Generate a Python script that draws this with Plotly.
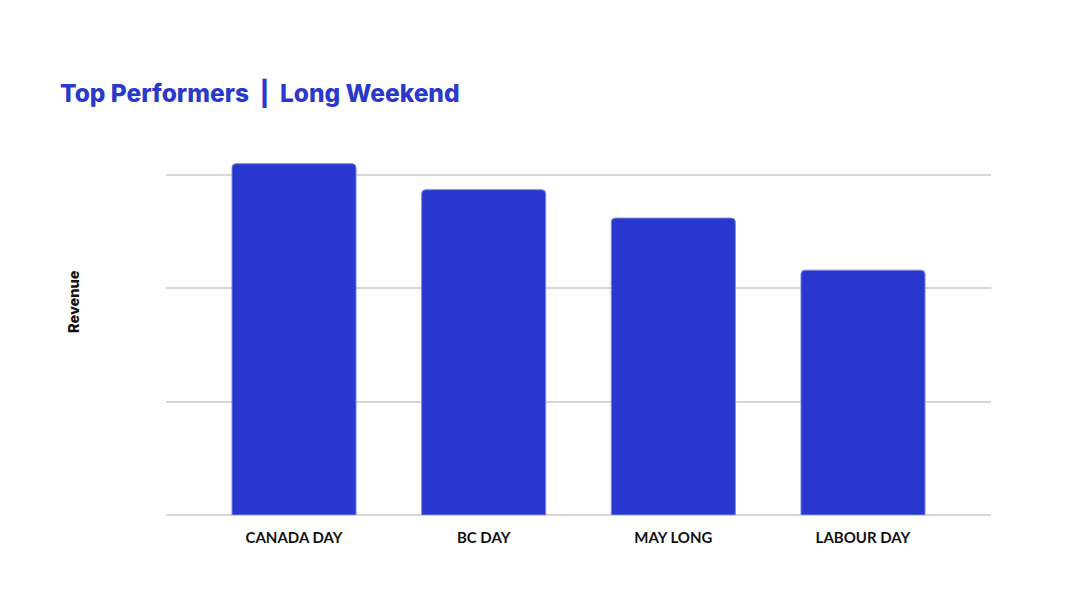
import plotly.graph_objects as go

categories = ["CANADA DAY", "BC DAY", "MAY LONG", "LABOUR DAY"]
revenue = [3.10, 2.87, 2.62, 2.16]

W, H = 1078, 596
OFF = 8  # page offset of the plot
L, R, T, B = 166 - OFF, 87 + OFF, 141 - OFF, 81 + OFF

fig = go.Figure()
fig.add_trace(go.Bar(
    x=categories, y=revenue,
    width=0.654,
    marker=dict(color="#2837CD", line=dict(color="#7d86e0", width=1), cornerradius=4),
    hoverinfo="x+y",
))

fig.update_layout(
    width=W, height=H,
    margin=dict(l=L, r=R, t=T, b=B),
    paper_bgcolor="white", plot_bgcolor="white",
    showlegend=False,
    title=dict(
        text="Top Performers  |  Long Weekend",
        font=dict(family="Inter", size=24.5, color="#2A39CC", weight=800),
        xref="container", yref="container",
        x=(60 - OFF) / W, xanchor="left",
        y=1 - (93 - OFF) / H, yanchor="middle",
    ),
    xaxis=dict(
        range=[-0.675, 3.675],
        showgrid=False, zeroline=False, showline=False,
        ticks="outside", ticklen=9, tickcolor="rgba(0,0,0,0)",
        tickfont=dict(family="Lato", size=15, color="#111111", weight=700),
    ),
    yaxis=dict(
        range=[0, 3.3], dtick=1,
        showgrid=True, gridcolor="#d6d6d6", gridwidth=2,
        zeroline=True, zerolinecolor="#d6d6d6", zerolinewidth=2,
        showticklabels=False, showline=False,
    ),
    annotations=[dict(
        text="Revenue", textangle=-90,
        xref="paper", yref="paper",
        x=(73 - 166) / (W - L - R), y=(515 - 302) / (H - T - B),
        xanchor="center", yanchor="middle", showarrow=False,
        font=dict(family="Inter", size=14.5, color="#111111", weight=800),
    )],
)

fig.write_html("out.html")
